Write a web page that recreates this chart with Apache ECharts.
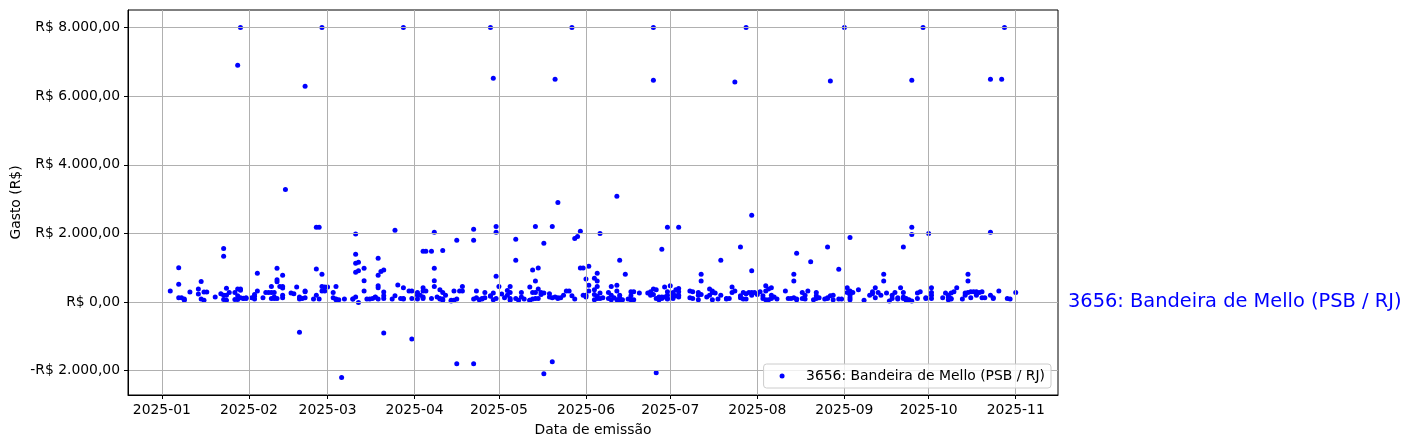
<!DOCTYPE html>
<html><head><meta charset="utf-8">
<script src="https://cdn.jsdelivr.net/npm/echarts@6/dist/echarts.min.js"></script>
<style>html,body{margin:0;padding:0;background:#fff}#c{width:1412px;height:448px}</style>
</head><body><div id="c"></div>
<script>
const seriesName = '3656: Bandeira de Mello (PSB / RJ)';
const monthTicks = ['2025-01','2025-02','2025-03','2025-04','2025-05','2025-06','2025-07','2025-08','2025-09','2025-10','2025-11'];
const yTicks = [-2000, 0, 2000, 4000, 6000, 8000];

// [day of month, gasto]
const jan = [[4,320],[7,1000],[7,520],[7,125],[8,125],[9,90],[9,50],[11,290],[14,230],[14,380],[15,600],[15,90],[16,290],[16,50],[17,290],[20,145],[22,240],[23,1560],[23,1330],[23,200],[23,70],[24,200],[24,400],[24,50],[25,280],[27,280],[27,70],[28,380],[28,185],[28,70],[28,6900],[29,380],[29,340],[29,125],[29,8000],[30,105],[30,110],[31,105],[31,125]];
const feb = [[2,125],[3,165],[3,220],[3,87],[4,840],[4,320],[6,125],[7,280],[8,280],[9,280],[9,450],[9,105],[10,280],[10,145],[10,105],[11,590],[11,985],[11,650],[11,105],[12,450],[13,780],[13,450],[13,405],[13,200],[13,125],[14,3280],[16,260],[17,240],[18,435],[19,145],[19,87],[19,-880],[20,105],[21,320],[21,300],[21,125],[21,6290],[24,87],[25,2180],[25,960],[25,200],[26,2180],[26,87],[27,810],[27,450],[27,320],[27,8000],[28,320],[28,435]];
const mar = [[1,435],[3,280],[3,125],[4,450],[4,87],[4,68],[5,68],[6,-2200],[7,87],[10,87],[10,90],[11,145],[11,1980],[11,1390],[11,1130],[11,870],[12,-15],[12,1160],[12,910],[14,985],[14,620],[14,320],[15,87],[16,87],[17,105],[18,145],[18,140],[19,87],[19,1275],[19,473],[19,415],[19,780],[20,890],[21,930],[21,290],[21,185],[21,105],[21,-900],[24,87],[25,185],[25,2090],[26,493],[27,105],[28,87],[28,415],[28,105],[28,8000],[30,320],[31,320],[31,105],[31,-1080]];
const apr = [[2,200],[2,280],[2,87],[3,200],[4,415],[4,320],[4,105],[4,145],[4,1480],[5,320],[5,1480],[7,1480],[7,105],[8,2030],[8,985],[8,620],[8,450],[9,145],[10,357],[10,105],[10,87],[11,48],[11,1500],[11,280],[11,87],[12,200],[14,29],[14,48],[15,48],[15,320],[16,87],[16,1800],[16,-1800],[17,320],[18,320],[18,450],[22,2120],[22,1800],[22,-1800],[22,87],[23,125],[23,320],[24,68],[25,87],[25,105],[26,280],[26,125],[28,185],[28,165],[28,8000],[29,260],[29,68],[29,6520],[30,2200],[30,2030],[30,750],[30,105]];
const may = [[1,450],[2,232],[3,125],[4,338],[4,200],[5,450],[5,280],[5,105],[5,48],[7,105],[7,1830],[7,1220],[8,48],[9,280],[9,145],[10,87],[12,48],[12,50],[12,435],[13,87],[13,280],[13,930],[14,280],[14,610],[14,105],[14,2200],[15,377],[15,105],[15,990],[16,222],[16,280],[17,260],[17,1710],[17,-2090],[19,145],[19,240],[20,2200],[20,-1740],[20,125],[21,145],[21,6490],[22,105],[22,125],[22,2900],[23,125],[24,200],[25,320],[26,320],[27,185],[27,8000],[28,87],[28,1850],[29,1910],[30,2060],[30,990],[31,990],[31,200]];
const jun = [[1,670],[1,145],[1,200],[2,320],[2,490],[2,1040],[4,695],[5,840],[5,610],[5,450],[4,357],[4,222],[5,165],[6,260],[5,105],[4,68],[6,105],[7,125],[6,2000],[12,3080],[13,1220],[9,280],[10,200],[10,450],[11,125],[9,105],[10,68],[12,490],[12,320],[13,200],[13,125],[12,68],[13,60],[14,68],[15,810],[16,87],[17,185],[17,300],[18,300],[17,68],[18,68],[20,260],[23,260],[24,300],[24,200],[25,377],[26,357],[27,145],[27,125],[28,145],[26,105],[25,222],[29,145],[30,200],[30,300],[30,105],[30,87],[28,105],[27,68],[26,-2060],[25,6460],[25,8000],[28,1540],[29,435],[30,2180]];
const jul = [[1,473],[2,280],[2,240],[3,185],[4,396],[4,300],[3,357],[2,145],[4,200],[2,105],[4,145],[4,2180],[8,320],[9,300],[8,125],[9,105],[11,280],[11,200],[12,610],[12,810],[11,68],[12,222],[14,145],[15,377],[16,320],[16,280],[17,260],[15,200],[16,68],[18,87],[19,200],[19,1220],[21,87],[21,105],[22,105],[23,435],[23,280],[24,320],[24,6410],[26,185],[26,125],[26,1600],[27,280],[27,87],[28,240],[28,87],[28,8000],[29,280],[30,280],[30,200],[30,2530],[30,910],[31,280]];
const aug = [[1,222],[2,300],[3,105],[3,185],[4,320],[4,473],[4,68],[5,377],[5,68],[6,415],[6,105],[6,200],[7,145],[8,87],[11,320],[12,105],[13,105],[14,125],[14,810],[14,610],[15,87],[15,68],[15,1420],[17,280],[17,105],[18,200],[18,87],[19,320],[20,1170],[21,68],[22,105],[22,280],[22,185],[23,125],[25,87],[26,105],[26,125],[26,1600],[27,185],[27,6440],[28,200],[28,68],[30,87],[30,956],[31,87]];
const sep = [[1,8000],[2,415],[2,280],[3,1880],[3,320],[3,200],[3,125],[3,68],[4,280],[6,357],[8,48],[10,200],[11,240],[11,300],[12,415],[12,125],[13,280],[14,200],[15,810],[15,610],[16,260],[17,29],[18,105],[18,200],[19,280],[20,87],[20,125],[21,415],[22,280],[22,145],[22,105],[22,1600],[23,105],[23,48],[24,68],[24,48],[25,29],[25,2180],[25,1970],[25,6460],[27,105],[27,260],[28,300],[29,8000],[30,105],[30,125]];
const oct = [[1,2000],[2,280],[2,415],[2,200],[2,105],[6,125],[7,260],[8,200],[8,145],[8,68],[9,260],[9,87],[9,105],[10,300],[11,415],[13,87],[14,200],[14,260],[15,280],[15,810],[15,610],[16,125],[16,300],[17,300],[18,300],[18,200],[19,280],[20,300],[20,125],[21,125],[23,2030],[23,200],[23,6490],[24,105],[24,125],[26,320],[27,6490],[28,8000],[29,105],[30,87]];
const nov = [[1,280]];

const months = [jan, feb, mar, apr, may, jun, jul, aug, sep, oct, nov];
const points = [];
months.forEach((arr, m) => arr.forEach(([d, v]) => points.push([new Date(2025, m, d).getTime(), v])));

const xs = points.map(p => p[0]), ys = points.map(p => p[1]);
const xMin0 = Math.min(...xs), xMax0 = Math.max(...xs);
const yMin0 = Math.min(...ys), yMax0 = Math.max(...ys);
const xPad = (xMax0 - xMin0) * 0.05, yPad = (yMax0 - yMin0) * 0.05;

const monthTickValues = monthTicks.map(s => { const [y, m] = s.split('-').map(Number); return new Date(y, m - 1, 1).getTime(); });

function brl(v) {
  const neg = v < 0;
  const parts = Math.abs(v).toFixed(2).split('.');
  const intp = parts[0].replace(/\B(?=(\d{3})+(?!\d))/g, '.');
  return (neg ? '-' : '') + 'R$ ' + intp + ',' + parts[1];
}
function ym(v) { const d = new Date(v + 43200000); return d.getFullYear() + '-' + String(d.getMonth() + 1).padStart(2, '0'); }

const FONT = 'DejaVu Sans';
const chart = echarts.init(document.getElementById('c'), null, { renderer: 'canvas' });
chart.setOption({
  animation: false,
  textStyle: { fontFamily: FONT },
  grid: { left: 128, right: 354, top: 10, bottom: 53, show: true, borderColor: '#000', borderWidth: 1, containLabel: false, outerBoundsMode: 'none' },
  legend: {
    right: 361, bottom: 60, orient: 'horizontal',
    data: [seriesName], icon: 'circle', itemWidth: 38, itemHeight: 5,
    padding: [5, 6, 5, 16],
    backgroundColor: 'rgba(255,255,255,0.8)', borderColor: '#cccccc', borderWidth: 1, borderRadius: 3,
    textStyle: { fontSize: 13.9, color: '#000', fontFamily: FONT }
  },
  xAxis: {
    type: 'value', min: xMin0 - xPad, max: xMax0 + xPad, scale: true,
    name: 'Data de emissão', nameLocation: 'middle', nameGap: 28, nameMoveOverlap: false,
    nameTextStyle: { fontSize: 13.9, color: '#000', fontFamily: FONT },
    axisLine: { show: true, onZero: false, lineStyle: { color: '#000', width: 1 } },
    axisTick: { show: true, length: 4, lineStyle: { color: '#000' }, customValues: monthTickValues },
    axisLabel: { customValues: monthTickValues, formatter: v => ym(v), fontSize: 13.9, color: '#000', margin: 8, fontFamily: FONT, hideOverlap: false },
    splitLine: { show: true, lineStyle: { color: '#b0b0b0', width: 1 } }
  },
  yAxis: {
    type: 'value', min: yMin0 - yPad, max: yMax0 + yPad, scale: true,
    name: 'Gasto (R$)', nameLocation: 'middle', nameGap: 105, nameRotate: 90, nameMoveOverlap: false,
    nameTextStyle: { fontSize: 13.9, color: '#000', fontFamily: FONT },
    axisLine: { show: true, onZero: false, lineStyle: { color: '#000', width: 1 } },
    axisTick: { show: true, length: 4, lineStyle: { color: '#000' }, customValues: yTicks },
    axisLabel: { customValues: yTicks, formatter: v => brl(v), fontSize: 13.9, color: '#000', margin: 8, fontFamily: FONT },
    splitLine: { show: true, lineStyle: { color: '#b0b0b0', width: 1 } }
  },
  series: [{
    name: seriesName, type: 'scatter', data: points, symbol: 'circle', symbolSize: 5,
    itemStyle: { color: '#0000ff', opacity: 1 }, z: -1, silent: true,
    emphasis: { disabled: true }
  }]
});
const y0 = chart.convertToPixel({ yAxisIndex: 0 }, 0);
chart.setOption({
  graphic: [{
    type: 'text', x: 1068, y: y0,
    style: { text: seriesName, fill: '#0000ff', fontSize: 19.4, fontFamily: FONT, verticalAlign: 'middle', align: 'left' }
  }]
});
</script>
</body></html>
